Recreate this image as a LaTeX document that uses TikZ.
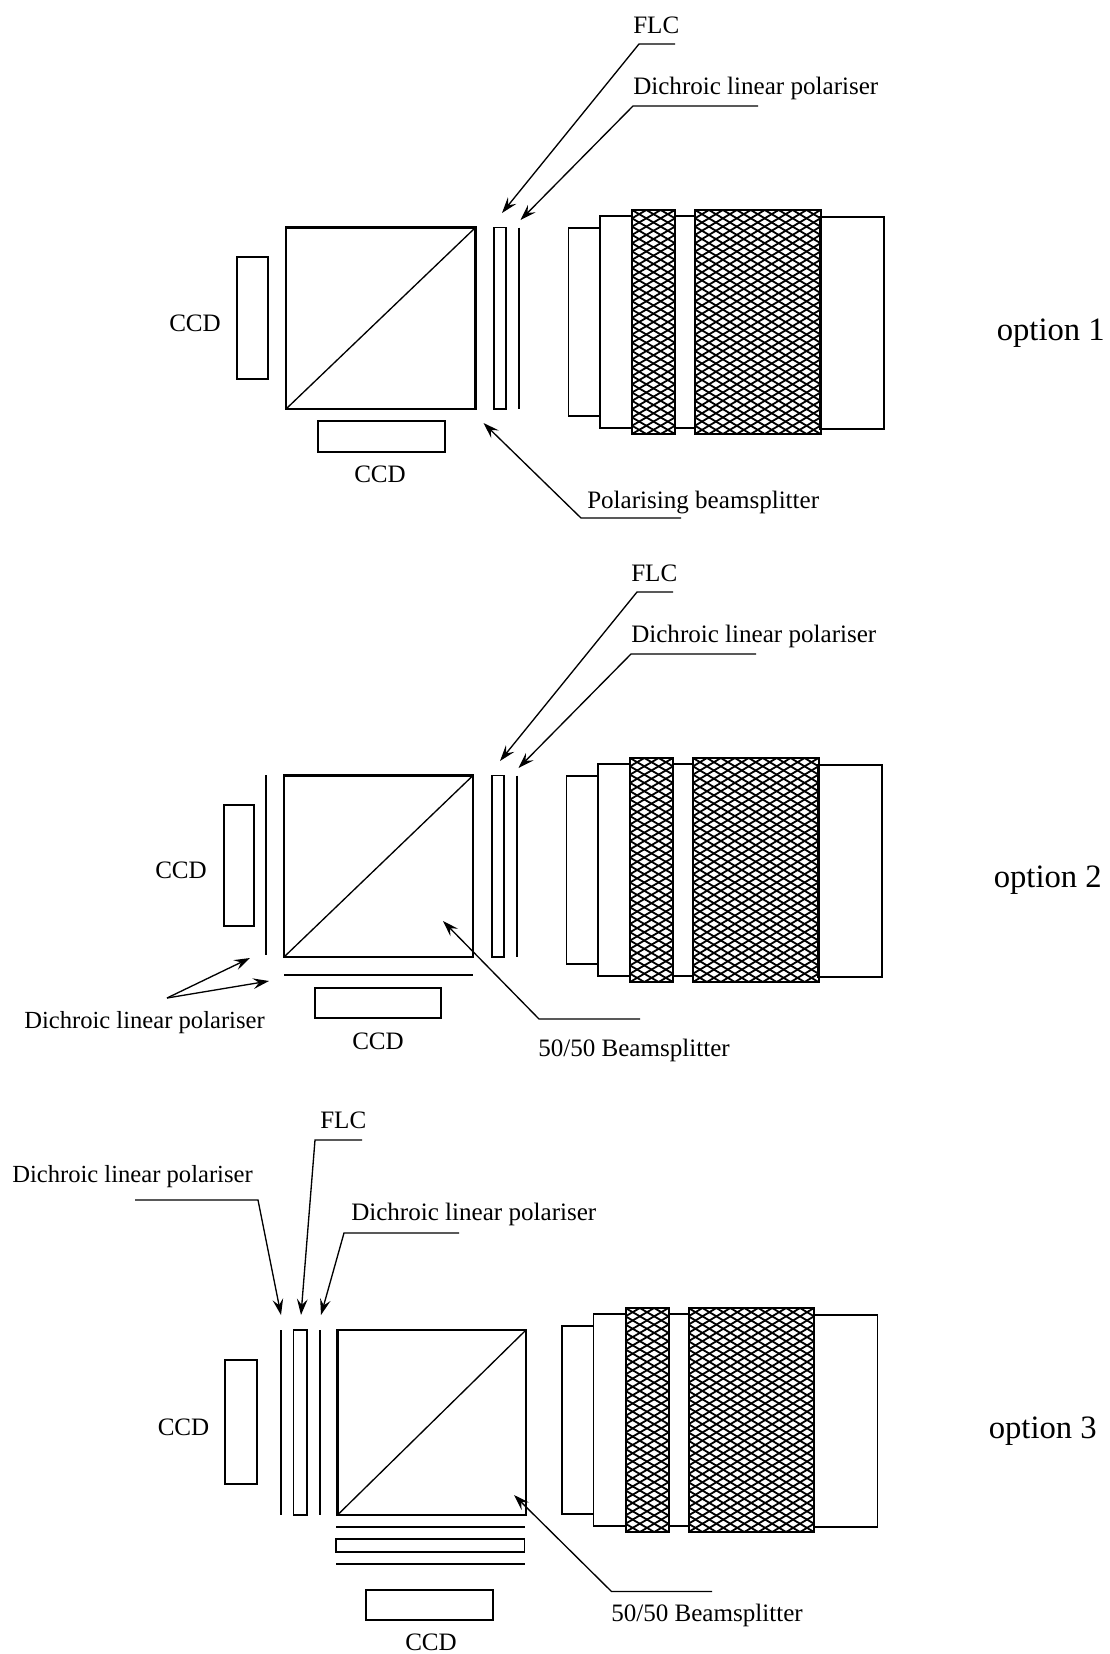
\documentclass[tikz,border=0pt]{standalone}
\usepackage{fontspec}
\setmainfont{Liberation Serif}
\usetikzlibrary{arrows.meta}
\tikzset{
  part/.style={draw=black,line width=1.5pt},
  thin part/.style={draw=black,line width=1.2pt},
  cube/.style={draw=black,line width=1.8pt},
  split/.style={draw=black,line width=1.0pt},
  plate/.style={draw=black,line width=1.5pt},
  leader/.style={draw=black,line width=1.0pt},
  arrowed/.style={leader,-{Stealth[length=12pt,width=8pt,inset=4.5pt]}},
  lbl/.style={inner sep=0pt,anchor=base west,font=\fontsize{18.8}{22}\selectfont},
  lbl narrow/.style={lbl,font=\fontsize{18.45}{22}\selectfont},
  optlbl/.style={inner sep=0pt,anchor=base west,font=\fontsize{24.5}{28}\selectfont},
  mesh/.style={draw=black,line width=1.35pt},
}
% hatched band: left, right, top, bottom, diamonds across
\newcommand{\meshband}[5]{%
  \begin{scope}
    \clip (#1,#3) rectangle (#2,#4);
    \pgfmathsetmacro{\rowh}{(#4-#3)/27}
    \foreach \k in {-#5,...,27}{
      \draw[mesh] (#1,{#3+\k*\rowh}) -- (#2,{#3+(\k+#5)*\rowh});
      \draw[mesh] (#1,{#3+(\k+#5)*\rowh}) -- (#2,{#3+\k*\rowh});
    }
  \end{scope}
  \draw[part] (#1,#3) rectangle (#2,#4);
}
\newcommand{\lensat}[2]{%
  \begin{scope}[shift={(#1,#2)}]
    \draw[thin part] (568.5,228) rectangle (600,416);
    \draw[thin part] (600,216) rectangle (632,428);
    \draw[thin part] (675,216) rectangle (695,428);
    \draw[thin part] (820,217) rectangle (884,429);
    \meshband{632}{675}{210}{434}{3}
    \meshband{695}{820.5}{210}{434}{9}
  \end{scope}
}
\begin{document}
\begin{tikzpicture}[x=0.75pt,y=-0.75pt]
\useasboundingbox (0,0) rectangle (1110,1654);

% ---------- option 1
\draw[cube] (286,227.5) rectangle (475.5,409);
\coordinate (a1) at (286,409); \coordinate (b1) at (475.5,227.5);
\draw[split] (a1) -- (b1);
\draw[part] (237,257) rectangle (268,379);
\draw[part] (317.5,421) rectangle (445,452);
\draw[thin part] (494,227.5) rectangle (506,409);
\coordinate (p1a) at (519,227.5); \coordinate (p1b) at (519,409);
\draw[plate] (p1a) -- (p1b);
\lensat{0}{0}
\node[lbl] (ccd1l) at (169,331) {CCD};
\node[lbl] (ccd1b) at (354,482) {CCD};
\node[lbl] (flc1) at (633,33) {FLC};
\node[lbl] (dlp1) at (633,94) {Dichroic linear polariser};
\node[lbl] (pbs1) at (587,508) {Polarising beamsplitter};
\node[optlbl] (opt1) at (996.5,340) {option 1};
\coordinate (u1a) at (675,44); \coordinate (k1a) at (639,44); \coordinate (t1a) at (502,213);
\coordinate (u1b) at (758,106); \coordinate (k1b) at (633,106); \coordinate (t1b) at (520.5,220);
\coordinate (u1c) at (681,518); \coordinate (k1c) at (581,518); \coordinate (t1c) at (483.5,423);
\draw[arrowed] (u1a) -- (k1a) -- (t1a);
\draw[arrowed] (u1b) -- (k1b) -- (t1b);
\draw[arrowed] (u1c) -- (k1c) -- (t1c);

% ---------- option 2
\draw[cube] (284,775.5) rectangle (473,957);
\coordinate (a2) at (284,957); \coordinate (b2) at (473,775.5);
\draw[split] (a2) -- (b2);
\draw[part] (224,805) rectangle (254,926);
\draw[part] (315,987.5) rectangle (441,1018);
\draw[thin part] (492,775.5) rectangle (504,957);
\coordinate (p2a) at (517,775.5); \coordinate (p2b) at (517,957);
\draw[plate] (p2a) -- (p2b);
\coordinate (p2c) at (266,775); \coordinate (p2d) at (266,955);
\draw[plate] (p2c) -- (p2d);
\coordinate (p2e) at (284,975); \coordinate (p2f) at (473,975);
\draw[plate] (p2e) -- (p2f);
\lensat{-2}{548}
\node[lbl] (ccd2l) at (155,878) {CCD};
\node[lbl] (ccd2b) at (352,1049) {CCD};
\node[lbl] (flc2) at (631,581) {FLC};
\node[lbl] (dlp2) at (631,642) {Dichroic linear polariser};
\node[lbl narrow] (dlp2l) at (24,1028) {Dichroic linear polariser};
\node[lbl] (bs2) at (538,1056) {50/50 Beamsplitter};
\node[optlbl] (opt2) at (993.5,887) {option 2};
\coordinate (u2a) at (673,592); \coordinate (k2a) at (637,592); \coordinate (t2a) at (500,761);
\coordinate (u2b) at (756,654); \coordinate (k2b) at (631,654); \coordinate (t2b) at (518.5,768);
\coordinate (u2c) at (640,1019); \coordinate (k2c) at (539,1019); \coordinate (t2c) at (443,921);
\coordinate (s2) at (167,998); \coordinate (t2d) at (250,958); \coordinate (t2e) at (269,981);
\draw[arrowed] (u2a) -- (k2a) -- (t2a);
\draw[arrowed] (u2b) -- (k2b) -- (t2b);
\draw[arrowed] (u2c) -- (k2c) -- (t2c);
\draw[arrowed] (s2) -- (t2d);
\draw[arrowed] (s2) -- (t2e);

% ---------- option 3
\draw[cube] (337.5,1330) rectangle (526,1515);
\coordinate (a3) at (337.5,1515); \coordinate (b3) at (526,1330);
\draw[split] (a3) -- (b3);
\draw[part] (225,1360) rectangle (257,1484);
\draw[part] (366,1590) rectangle (493,1620);
\draw[thin part] (293.3,1330) rectangle (306.7,1515);
\coordinate (p3a) at (281,1330); \coordinate (p3b) at (281,1515);
\draw[plate] (p3a) -- (p3b);
\coordinate (p3c) at (320,1330); \coordinate (p3d) at (320,1515);
\draw[plate] (p3c) -- (p3d);
\coordinate (p3e) at (336,1527); \coordinate (p3f) at (524.5,1527);
\draw[plate] (p3e) -- (p3f);
\draw[thin part] (336,1539) rectangle (524.5,1552);
\coordinate (p3g) at (336,1564); \coordinate (p3h) at (524.5,1564);
\draw[plate] (p3g) -- (p3h);
\lensat{-6.5}{1098}
\node[lbl] (ccd3l) at (157.5,1435) {CCD};
\node[lbl] (ccd3b) at (405,1650) {CCD};
\node[lbl] (flc3) at (320,1128) {FLC};
\node[lbl narrow] (dlp3a) at (12,1182) {Dichroic linear polariser};
\node[lbl] (dlp3b) at (351,1220) {Dichroic linear polariser};
\node[lbl] (bs3) at (611,1621) {50/50 Beamsplitter};
\node[optlbl] (opt3) at (988.5,1438) {option 3};
\coordinate (u3a) at (135,1200); \coordinate (k3a) at (258,1200); \coordinate (t3a) at (281,1315);
\coordinate (u3b) at (362,1140); \coordinate (k3b) at (315,1140); \coordinate (t3b) at (301,1315);
\coordinate (u3c) at (459,1233); \coordinate (k3c) at (344,1233); \coordinate (t3c) at (321,1315);
\coordinate (u3d) at (712,1591.5); \coordinate (k3d) at (611.5,1591.5); \coordinate (t3d) at (514,1495);
\draw[arrowed] (u3a) -- (k3a) -- (t3a);
\draw[arrowed] (u3b) -- (k3b) -- (t3b);
\draw[arrowed] (u3c) -- (k3c) -- (t3c);
\draw[arrowed] (u3d) -- (k3d) -- (t3d);
\end{tikzpicture}
\end{document}
